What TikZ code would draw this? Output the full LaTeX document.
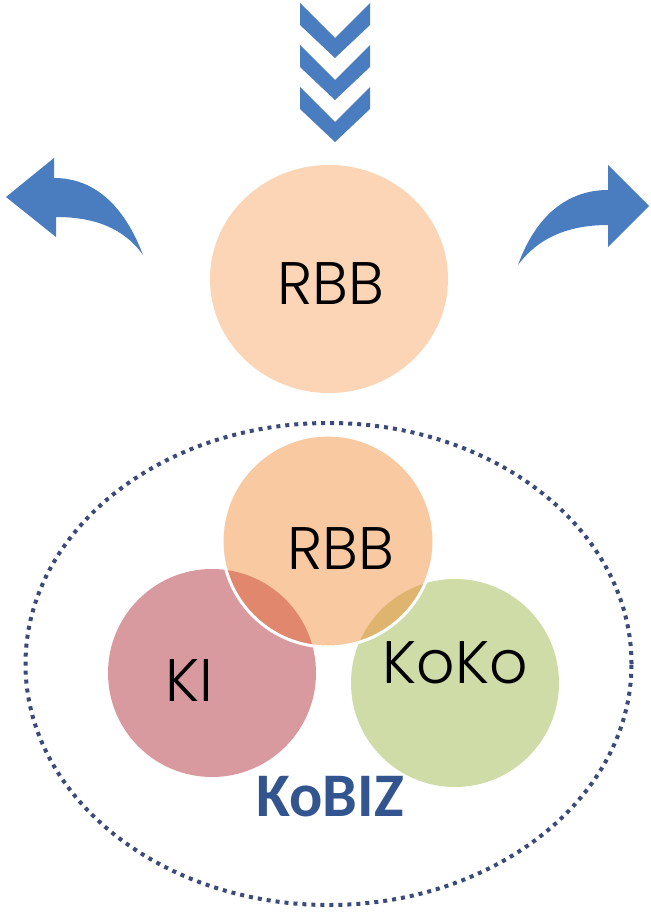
\documentclass[tikz,border=0pt]{standalone}
\usepackage{fontspec}
\usetikzlibrary{shapes.geometric}
\setmainfont{Poppins}[UprightFont=* Light]
\newfontfamily\kobizfont{Carlito}
\definecolor{arrowblue}{HTML}{4A7DC0}
\definecolor{peachA}{HTML}{FBD5B5}
\definecolor{peachB}{HTML}{F9C9A2}
\definecolor{roseC}{HTML}{D99A9F}
\definecolor{greenC}{HTML}{CFDCA8}
\definecolor{ovlRose}{HTML}{E0876E}
\definecolor{ovlGreen}{HTML}{DFB46E}
\definecolor{dotblue}{HTML}{3B4A78}
\definecolor{kobizblue}{HTML}{33558F}
\tikzset{
  ball/.style={circle, inner sep=0pt, draw=none},
  lbl/.style={inner sep=0pt, font=\fontsize{60}{60}\selectfont, text=black},
  chev/.style={fill=arrowblue, draw=none},
}
\begin{document}
\begin{tikzpicture}[x=1pt,y=-1pt]
\useasboundingbox (0,0) rectangle (650,912);
\fill[white] (0,0) rectangle (650,912);
% chevrons
\foreach \t in {3,45,87}{
  \fill[chev] (300,\t) -- (335,\t+35) -- (370,\t) -- (370,\t+22) -- (335,\t+55) -- (300,\t+22) -- cycle;
}
% curved arrows
\fill[arrowblue] (143,255) .. controls (124,205) and (94,178) .. (54,178) -- (54,158) -- (6,197) -- (56,237) -- (56,217) .. controls (94,217) and (124,228) .. (143,255) -- cycle;
\fill[arrowblue] (518,265) .. controls (536,215) and (568,190) .. (608,190) -- (608,165) -- (649,206) -- (608,247) -- (608,225) .. controls (568,225) and (538,238) .. (518,265) -- cycle;
% top circle
\node[ellipse, inner sep=0pt, fill=peachA, minimum width=238pt, minimum height=228pt] (rbbtop) at (329,279) {};
\node[lbl] (rbbtoptxt) at (331,284) {RBB};
% dotted ellipse
\node[ellipse, draw=dotblue, line width=4pt, dash pattern=on 4pt off 5pt, minimum width=606pt, minimum height=482pt, inner sep=0pt] (kobiz) at (328.5,664) {};
% lower circles
\node[ball, fill=roseC, minimum size=208pt] (ki) at (212,673) {};
\node[ball, fill=greenC, minimum size=208pt] (koko) at (455,683) {};
\node[ball, fill=peachB, minimum size=212pt] (rbb) at (328,541) {};
\begin{scope}
  \clip (rbb.center) circle (106);
  \fill[ovlRose] (ki.center) circle (104);
  \fill[ovlGreen] (koko.center) circle (104);
\end{scope}
\draw[white, line width=3pt] (rbb.center) circle (106);
\node[lbl] (rbbtxt) at (341,549) {RBB};
\node[lbl] (kitxt) at (189,681) {KI};
\node[lbl] (kokotxt) at (455,663) {KoKo};
\node[inner sep=0pt, font=\kobizfont\bfseries\fontsize{62}{62}\selectfont, text=kobizblue] (kobiztxt) at (330,797) {KoBIZ};
\end{tikzpicture}
\end{document}
